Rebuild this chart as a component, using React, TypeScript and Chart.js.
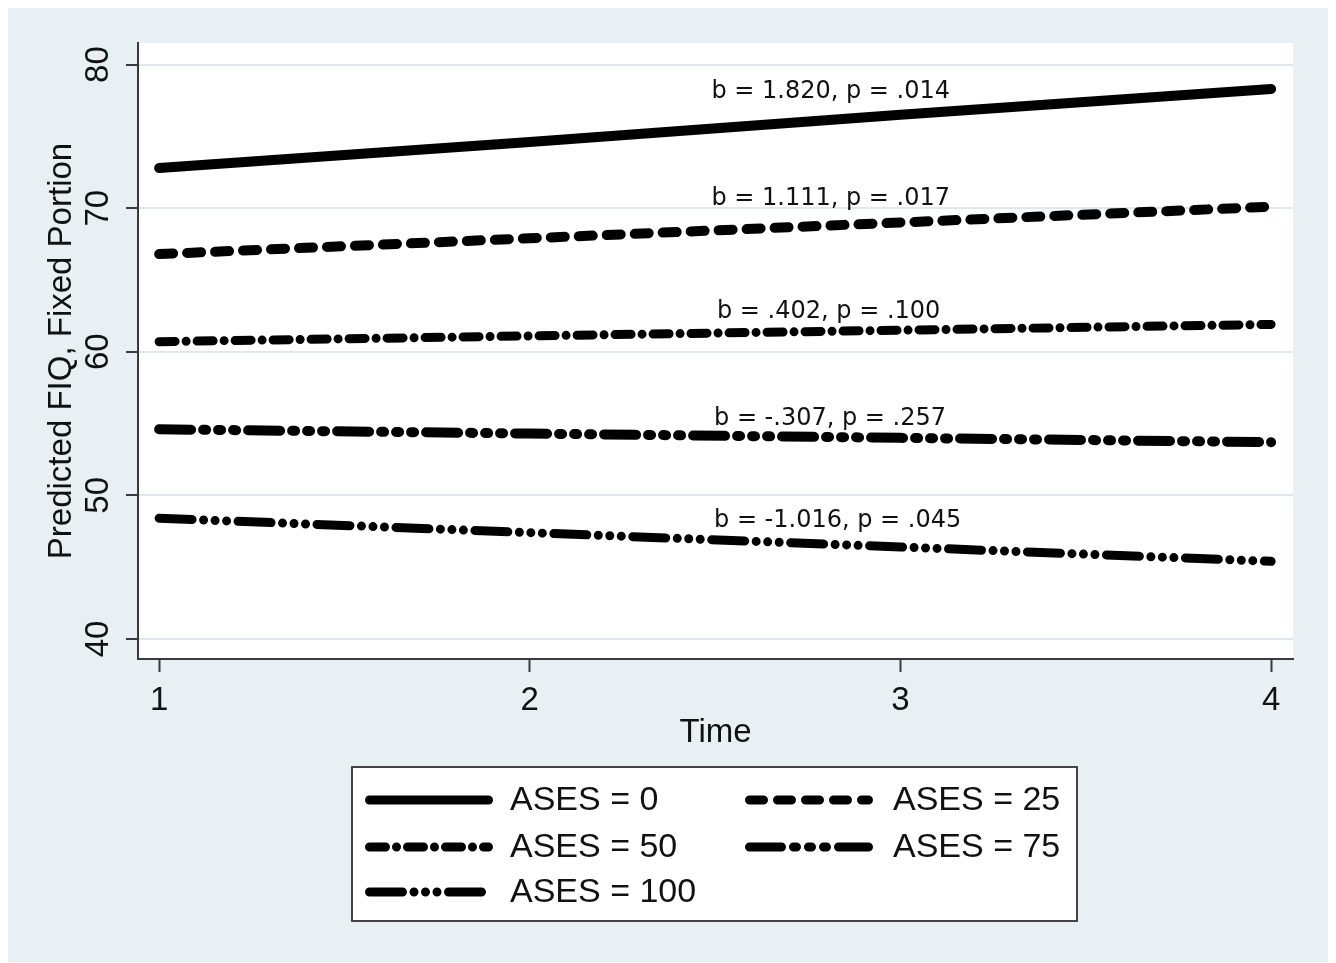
import React, { useEffect, useRef } from "react";
import { Chart, registerables } from "chart.js";

Chart.register(...registerables);

// ---- data ----
const times = [1, 2, 3, 4];
const ases0 = [72.8, 74.6, 76.5, 78.3];
const ases25 = [66.8, 67.9, 69.0, 70.1];
const ases50 = [60.7, 61.1, 61.5, 61.9];
const ases75 = [54.6, 54.3, 54.0, 53.7];
const ases100 = [48.4, 47.4, 46.4, 45.4];
const seriesLabels = ["ASES = 0", "ASES = 25", "ASES = 50", "ASES = 75", "ASES = 100"];
const xTickValues = [1, 2, 3, 4];
const yTickValues = [40, 50, 60, 70, 80];
const annotTexts = [
  "b = 1.820, p = .014",
  "b = 1.111, p = .017",
  "b = .402, p = .100",
  "b = -.307, p = .257",
  "b = -1.016, p = .045",
];
const annotX = [2.49, 2.49, 2.505, 2.497, 2.497];
const annotY = [78.1, 70.65, 62.8, 55.35, 48.25];
const xTitle = "Time";
const yTitle = "Predicted FIQ, Fixed Portion";

// ---- styles ----
const seriesValues = [ases0, ases25, ases50, ases75, ases100];
const dashes: number[][] = [
  [],
  [14, 14],
  [16, 11, 0, 11],
  [32, 12, 3, 12, 3, 12, 3, 12],
  [33, 11.5, 0, 11.5, 0, 11.5, 0, 11.5],
];
const widths = [10, 10, 9, 10, 9];
const AXIS = "#3a3a3a";
const TEXT = "#111111";
const SANS = "'Liberation Sans', Arial, sans-serif";
const MONO = "'DejaVu Sans', Verdana, sans-serif";

const plotBg = {
  id: "plotBg",
  beforeDraw(chart: any) {
    const { ctx, chartArea } = chart;
    ctx.save();
    ctx.fillStyle = "#ffffff";
    ctx.fillRect(chartArea.left, chartArea.top, chartArea.right - chartArea.left, chartArea.bottom - chartArea.top);
    ctx.restore();
  },
};

const annotPlugin = {
  id: "annots",
  afterDatasetsDraw(chart: any) {
    const { ctx, scales } = chart;
    ctx.save();
    ctx.fillStyle = TEXT;
    ctx.font = `24px ${MONO}`;
    ctx.textAlign = "left";
    ctx.textBaseline = "middle";
    annotTexts.forEach((t, i) => {
      ctx.fillText(t, scales.x.getPixelForValue(annotX[i]), scales.y.getPixelForValue(annotY[i]));
    });
    ctx.restore();
  },
};

const legendPlugin = {
  id: "customLegend",
  afterDraw(chart: any) {
    const { ctx } = chart;
    const box = { x: 344, y: 759, w: 725, h: 154 };
    ctx.save();
    ctx.fillStyle = "#ffffff";
    ctx.fillRect(box.x, box.y, box.w, box.h);
    ctx.strokeStyle = "#444444";
    ctx.lineWidth = 2;
    ctx.strokeRect(box.x, box.y, box.w, box.h);
    const cols = [357, 737];
    const textCols = [502, 885];
    const rows = [792, 839, 884];
    ctx.font = `34px ${SANS}`;
    ctx.textBaseline = "middle";
    ctx.textAlign = "left";
    seriesLabels.forEach((lab, i) => {
      const c = i % 2;
      const r = Math.floor(i / 2);
      const y = rows[r];
      ctx.beginPath();
      ctx.setLineDash(dashes[i]);
      ctx.lineWidth = 9;
      ctx.lineCap = "round";
      ctx.strokeStyle = "#000000";
      ctx.moveTo(cols[c] + 4.5, y);
      ctx.lineTo(cols[c] + 123.5, y);
      ctx.stroke();
      ctx.setLineDash([]);
      ctx.fillStyle = TEXT;
      ctx.fillText(lab, textCols[c], y + 1);
    });
    ctx.restore();
  },
};

export default function App() {
  const canvasRef = useRef<HTMLCanvasElement | null>(null);

  useEffect(() => {
    if (!canvasRef.current) return;
    const chart = new Chart(canvasRef.current, {
      type: "line",
      data: {
        datasets: seriesLabels.map((lab, i) => ({
          label: lab,
          data: times.map((t, j) => ({ x: t, y: seriesValues[i][j] })),
          borderColor: "#000000",
          backgroundColor: "#000000",
          borderWidth: widths[i],
          borderDash: dashes[i],
          borderCapStyle: "round",
          borderJoinStyle: "round",
          pointRadius: 0,
          tension: 0,
          fill: false,
        })),
      },
      options: {
        animation: false,
        responsive: false,
        maintainAspectRatio: false,
        layout: { padding: { top: 35, right: 35, bottom: 209, left: 0 } },
        plugins: { legend: { display: false }, tooltip: { enabled: false } },
        scales: {
          x: {
            type: "linear",
            min: 0.943,
            max: 4.059,
            afterBuildTicks: (s: any) => {
              s.ticks = xTickValues.map((v) => ({ value: v }));
            },
            afterFit: (s: any) => {
              s.height = 94;
            },
            grid: { drawOnChartArea: false, drawTicks: true, tickLength: 13, tickColor: AXIS, tickWidth: 2 },
            border: { display: true, color: AXIS, width: 2 },
            ticks: {
              font: { family: SANS, size: 33 },
              color: TEXT,
              padding: 9,
              maxRotation: 0,
              autoSkip: false,
              callback: (v: any) => String(v),
            },
            title: {
              display: true,
              text: xTitle,
              font: { family: SANS, size: 33 },
              color: TEXT,
              padding: { top: 0, bottom: 0 },
            },
          },
          y: {
            type: "linear",
            min: 38.6,
            max: 81.5,
            afterBuildTicks: (s: any) => {
              s.ticks = yTickValues.map((v) => ({ value: v }));
            },
            afterFit: (s: any) => {
              s.width = 130;
            },
            grid: { color: "#dce8ec", lineWidth: 2, tickLength: 12, tickColor: AXIS, tickWidth: 2 },
            border: { display: true, color: AXIS, width: 2 },
            ticks: {
              font: { family: SANS, size: 33 },
              color: TEXT,
              padding: 9,
              minRotation: 90,
              maxRotation: 90,
              crossAlign: "center",
              autoSkip: false,
              callback: (v: any) => String(v),
            },
            title: {
              display: true,
              text: yTitle,
              font: { family: SANS, size: 33 },
              color: TEXT,
              padding: { top: 34, bottom: 0 },
            },
          },
        },
      },
      plugins: [plotBg, annotPlugin, legendPlugin],
    } as any);
    return () => chart.destroy();
  }, []);

  return (
    <div style={{ position: "fixed", left: 0, top: 0, width: 1336, height: 963, background: "#ffffff" }}>
      <div style={{ position: "absolute", left: 8, top: 8, width: 1320, height: 954, background: "#e9f0f3" }}>
        <canvas ref={canvasRef} width={1320} height={954} style={{ display: "block", width: 1320, height: 954 }} />
      </div>
    </div>
  );
}
